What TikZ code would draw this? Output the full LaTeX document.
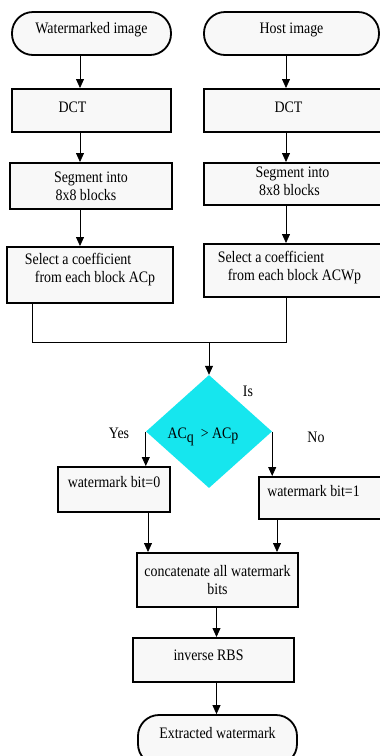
\documentclass[tikz,border=0pt]{standalone}
\usepackage{fontspec}
\setmainfont[FakeStretch=0.87]{Liberation Serif}
\usetikzlibrary{shapes.geometric,arrows.meta}

\definecolor{boxfill}{RGB}{248,248,248}
\definecolor{diafill}{RGB}{22,230,238}
\newcommand\liftup[2]{\raisebox{#1}[\height][\depth]{#2}}

\tikzset{
  terminal/.style={rectangle, rounded corners=21pt, draw=black, line width=1.8pt, fill=boxfill, inner sep=0pt},
  procbox/.style={rectangle, draw=black, line width=2pt, fill=boxfill, inner sep=0pt, align=center},
  decision/.style={diamond, fill=diafill, inner sep=0pt},
  arr/.style={-{Triangle[length=9pt,width=8pt]}, line width=0.8pt},
  lbl/.style={inner sep=0pt}
}

\begin{document}
\begin{tikzpicture}[x=1pt, y=-1pt, font=\fontsize{16}{18}\selectfont]
\clip (0,0) rectangle (380,756);
\useasboundingbox (0,0) rectangle (380,756);
\fill[white] (0,0) rectangle (380,756);

% left column
\node[terminal, minimum width=159pt, minimum height=43pt] (wimg) at (91.5,33.5) {\liftup{4pt}{Watermarked image}};
\node[procbox, minimum width=159pt, minimum height=43pt] (ldct) at (91.5,110.5) {\liftup{3pt}{DCT\hspace*{38pt}}};
\node[procbox, minimum width=162pt, minimum height=46pt] (lseg) at (91,186) {Segment into\\8x8 blocks\hspace*{10pt}};
\node[procbox, minimum width=166pt, minimum height=56pt, align=left] (lsel) at (90,275) {\liftup{5pt}{Select a coefficient}\\\liftup{5pt}{\hspace*{10pt}from each block ACp}};

% right column
\node[terminal, minimum width=175pt, minimum height=43pt] (himg) at (291.5,33.5) {\liftup{4pt}{Host image}};
\node[procbox, minimum width=177pt, minimum height=43pt] (rdct) at (292.5,110.5) {\liftup{3pt}{DCT\hspace*{8pt}}};
\node[procbox, minimum width=177pt, minimum height=42pt] (rseg) at (292.5,184) {\liftup{3pt}{Segment into}\\\liftup{3pt}{8x8 blocks\hspace*{6pt}}};
\node[procbox, minimum width=177pt, minimum height=53pt, align=left] (rsel) at (292.5,270.5) {\liftup{3pt}{Select a coefficient}\\\liftup{3pt}{\hspace*{10pt}from each block ACWp}\hspace*{6pt}};

% decision
\node[decision, minimum width=126pt, minimum height=113pt] (dia) at (209,431.5) {\liftup{-5pt}{AC\raisebox{-4pt}{q}\ \ > AC\raisebox{-2pt}{p}}\hspace*{12pt}};
\node[lbl] (is) at (248,391) {Is};
\node[lbl] (yes) at (119,433) {Yes};
\node[lbl] (no) at (316,437) {No};

\node[procbox, minimum width=112pt, minimum height=45pt] (bit0) at (114,489.5) {\liftup{7pt}{watermark bit=0}};
\node[procbox, minimum width=123pt, minimum height=42pt] (bit1) at (320.5,498) {\liftup{7pt}{watermark bit=1\hspace*{14pt}}};

% bottom
\node[procbox, minimum width=161pt, minimum height=54pt] (concat) at (217.5,580) {concatenate all watermark\\bits};
\node[procbox, minimum width=161pt, minimum height=44pt] (irbs) at (213.5,660) {\liftup{5pt}{inverse RBS\hspace*{10pt}}};
\node[terminal, minimum width=159pt, minimum height=50pt] (extr) at (217.5,740) {\liftup{7pt}{Extracted watermark}};

\coordinate (lc) at (80,0);
\coordinate (rc) at (286,0);
\coordinate (lleg) at (32,0);
\coordinate (join) at (209,342);
\coordinate (bl) at (148,0);
\coordinate (br) at (277,0);
\coordinate (mc) at (216.5,0);

\draw[arr] (wimg.south -| lc) -- (ldct.north -| lc);
\draw[arr] (ldct.south -| lc) -- (lseg.north -| lc);
\draw[arr] (lseg.south -| lc) -- (lsel.north -| lc);
\draw[arr] (himg.south -| rc) -- (rdct.north -| rc);
\draw[arr] (rdct.south -| rc) -- (rseg.north -| rc);
\draw[arr] (rseg.south -| rc) -- (rsel.north -| rc);
\draw[line width=0.8pt] (lsel.south -| lleg) -- (join -| lleg) -- (join -| rc) -- (rsel.south -| rc);
\draw[arr] (join) -- (dia.north);
\draw[arr] (dia.west) -- (dia.west |- bit0.north);
\draw[arr] (dia.east) -- (dia.east |- bit1.north);
\draw[arr] (bit0.south -| bl) -- (concat.north -| bl);
\draw[arr] (bit1.south -| br) -- (concat.north -| br);
\draw[arr] (concat.south -| mc) -- (irbs.north -| mc);
\draw[arr] (irbs.south -| mc) -- (extr.north -| mc);
\end{tikzpicture}
\end{document}
